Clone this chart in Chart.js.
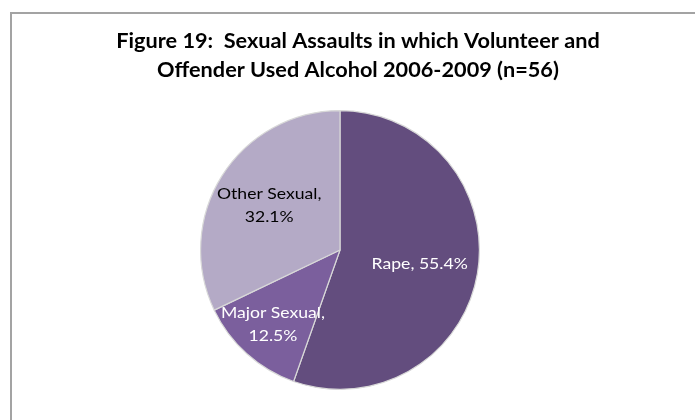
<!DOCTYPE html>
<html>
<head>
<meta charset="utf-8">
<script src="https://cdn.jsdelivr.net/npm/chart.js@4.4.1/dist/chart.umd.min.js"></script>
<style>
  html, body { margin: 0; padding: 0; background: #ffffff; overflow: hidden; }
  #wrap { position: relative; width: 695px; height: 420px; overflow: hidden; }
  #frame { position: absolute; left: 10px; top: 12px; width: 800px; height: 500px; border: 2px solid #a3a3a3; box-sizing: border-box; }
  #c { position: absolute; left: 0; top: 0; }
</style>
</head>
<body>
<div id="wrap">
  <div id="frame"></div>
  <canvas id="c" width="695" height="420"></canvas>
</div>
<script>
const titleLines = [
  "Figure 19:  Sexual Assaults in which Volunteer and",
  "Offender Used Alcohol 2006-2009 (n=56)"
];
const categories = ["Rape", "Major Sexual", "Other Sexual"];
const percentValues = [55.4, 12.5, 32.1];
const sliceColors = ["#634d7e", "#7b5f9d", "#b4aac6"];
const labelColors = ["#ffffff", "#ffffff", "#000000"];
const labelRadius = [0.58, 0.72, 0.60];
const labelBreak = [false, true, true];

function drawStretched(ctx, text, x, y, sx) {
  ctx.save();
  ctx.translate(x, y);
  ctx.scale(sx, 1);
  ctx.fillText(text, 0, 0);
  ctx.restore();
}

const titlePlugin = {
  id: 'customTitle',
  afterDraw(chart) {
    const ctx = chart.ctx;
    ctx.save();
    ctx.fillStyle = '#000000';
    ctx.font = 'bold 20px Lato, "Open Sans", sans-serif';
    ctx.textAlign = 'center';
    ctx.textBaseline = 'middle';
    const cx = 358;
    titleLines.forEach((t, i) => drawStretched(ctx, t, cx, 42 + i * 29, 1.085));
    ctx.restore();
  }
};

const labelPlugin = {
  id: 'sliceLabels',
  afterDatasetsDraw(chart) {
    const ctx = chart.ctx;
    const meta = chart.getDatasetMeta(0);
    ctx.save();
    ctx.font = '16px Lato, "Open Sans", sans-serif';
    ctx.textAlign = 'center';
    ctx.textBaseline = 'middle';
    meta.data.forEach((arc, i) => {
      const p = arc.getProps(['x', 'y', 'startAngle', 'endAngle', 'outerRadius'], true);
      const mid = (p.startAngle + p.endAngle) / 2;
      const r = p.outerRadius * labelRadius[i];
      const x = p.x + Math.cos(mid) * r;
      const y = p.y + Math.sin(mid) * r;
      const val = chart.data.datasets[0].data[i].toFixed(1) + '%';
      const name = chart.data.labels[i] + ',';
      ctx.fillStyle = labelColors[i];
      if (labelBreak[i]) {
        drawStretched(ctx, name, x, y - 11.5, 1.1);
        drawStretched(ctx, val, x, y + 11.5, 1.1);
      } else {
        drawStretched(ctx, name + ' ' + val, x, y, 1.1);
      }
    });
    ctx.restore();
  }
};

new Chart(document.getElementById('c'), {
  type: 'pie',
  data: {
    labels: categories,
    datasets: [{
      data: percentValues,
      backgroundColor: sliceColors,
      borderColor: '#d8d8d8',
      borderWidth: 1.2,
      hoverOffset: 0
    }]
  },
  options: {
    responsive: false,
    animation: false,
    events: [],
    layout: { padding: { left: 200, right: 215, top: 110, bottom: 30 } },
    plugins: {
      legend: { display: false },
      tooltip: { enabled: false },
      title: { display: false }
    }
  },
  plugins: [titlePlugin, labelPlugin]
});
</script>
</body>
</html>
